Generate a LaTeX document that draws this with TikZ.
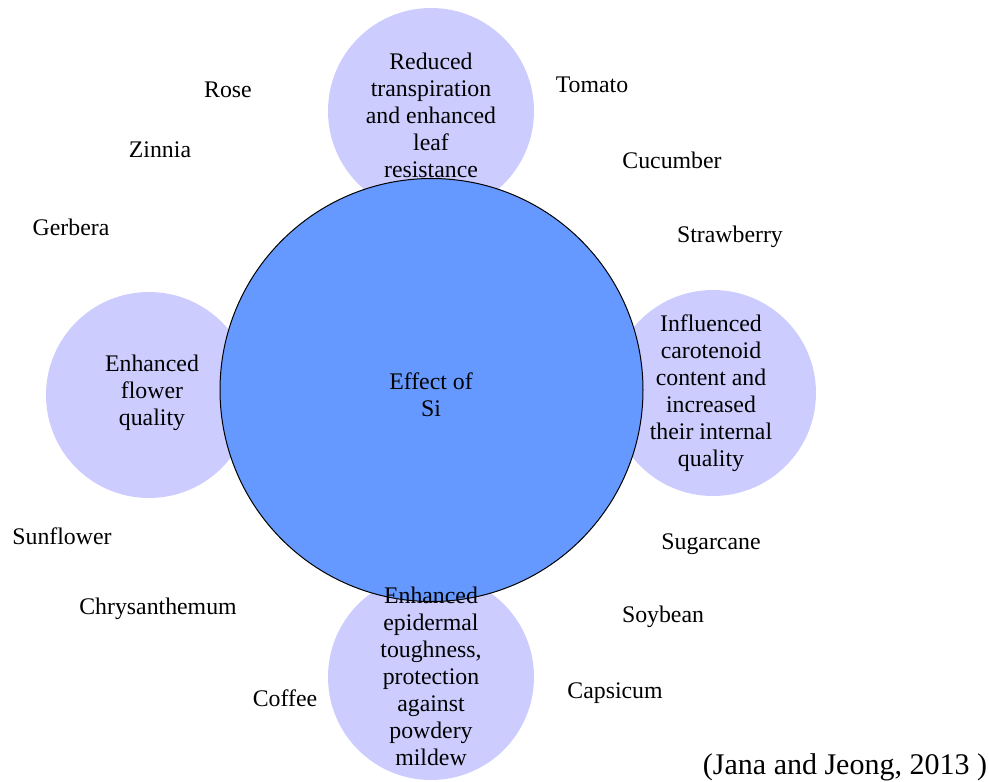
\documentclass[tikz,border=0pt]{standalone}
\usepackage{fontspec}
\setmainfont{Liberation Serif}
\newfontfamily\tnr{Liberation Serif}
\definecolor{mainblue}{HTML}{6699FF}
\definecolor{lilac}{HTML}{CCCCFF}
\begin{document}
\begin{tikzpicture}[x=1pt,y=-1pt,
  small/.style={circle,fill=lilac,minimum size=206pt,inner sep=0pt},
  big/.style={circle,fill=mainblue,draw=black,line width=1pt,minimum size=423pt,inner sep=0pt},
  ctext/.style={align=center,font=\tnr\fontsize{23.8}{27}\selectfont,inner sep=0pt},
  lbl/.style={font=\tnr\fontsize{23.8}{27}\selectfont,inner sep=0pt}]
\useasboundingbox (0,0) rectangle (989,782);
\node[small] (top) at (431,111) {};
\node[small] (left) at (149,395) {};
\node[small] (right) at (713,393) {};
\node[small] (bottom) at (431,677) {};
\node[big] (main) at (431.5,390) {};
\node[ctext] (maintxt) at (431,395) {Effect of\\Si};
\node[ctext] (toptxt) at (431,115) {Reduced\\transpiration\\and enhanced\\leaf\\resistance};
\node[ctext] (lefttxt) at (152,393) {Enhanced\\flower\\quality};
\node[ctext] (righttxt) at (711,393) {Influenced\\carotenoid\\content and\\increased\\their internal\\quality};
\node[ctext] (bottomtxt) at (431,676) {Enhanced\\epidermal\\toughness,\\protection\\against\\powdery\\mildew};
\node[lbl] (rose) at (228,90) {Rose};
\node[lbl] (zinnia) at (160,150) {Zinnia};
\node[lbl] (gerbera) at (71,227) {Gerbera};
\node[lbl] (tomato) at (592,85) {Tomato};
\node[lbl] (cucumber) at (672,160) {Cucumber};
\node[lbl] (strawberry) at (730,237) {Strawberry};
\node[lbl] (sunflower) at (62,536) {Sunflower};
\node[lbl] (chrys) at (158,609) {Chrysanthemum};
\node[lbl] (coffee) at (285,698) {Coffee};
\node[lbl] (sugarcane) at (711,544) {Sugarcane};
\node[lbl] (soybean) at (663,617) {Soybean};
\node[lbl] (capsicum) at (615,693) {Capsicum};
\node[font=\tnr\fontsize{30}{35}\selectfont,inner sep=0pt] (cite) at (845,767) {(Jana and Jeong, 2013 )};
\end{tikzpicture}
\end{document}
